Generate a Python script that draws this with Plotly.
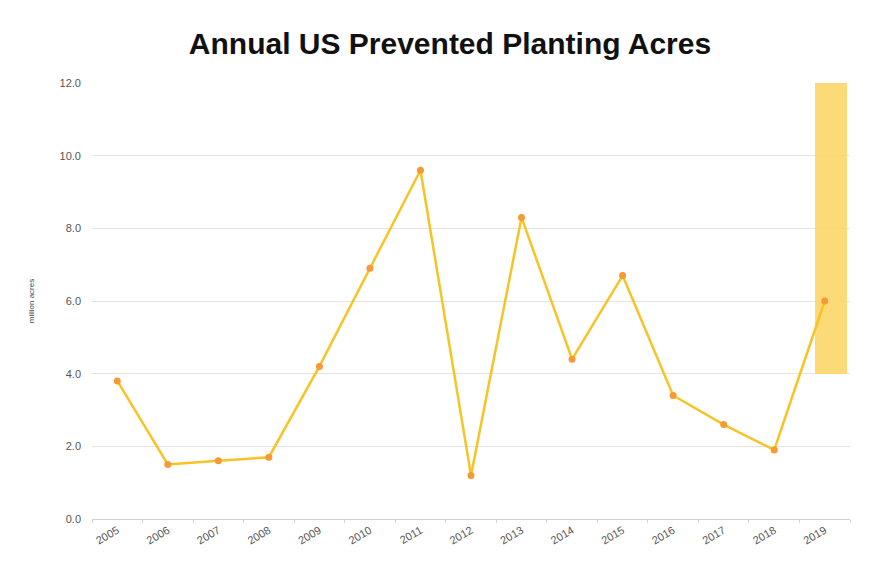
import plotly.graph_objects as go

years = ["2005", "2006", "2007", "2008", "2009", "2010", "2011", "2012",
         "2013", "2014", "2015", "2016", "2017", "2018", "2019"]
acres = [3.8, 1.5, 1.6, 1.7, 4.2, 6.9, 9.6, 1.2, 8.3, 4.4, 6.7, 3.4, 2.6, 1.9, 6.0]
highlight_year = ["2019"]
highlight_low = [4.0]
highlight_high = [12.0]
y_ticks = [0, 2, 4, 6, 8, 10, 12]
y_tick_labels = ["0.0", "2.0", "4.0", "6.0", "8.0", "10.0", "12.0"]

fig = go.Figure()
fig.add_trace(go.Bar(
    x=highlight_year,
    y=[h - l for h, l in zip(highlight_high, highlight_low)],
    base=highlight_low,
    width=0.63,
    offset=-0.19,
    marker=dict(color="rgba(253,214,105,0.9)", line=dict(width=0)),
    hoverinfo="skip",
    showlegend=False,
))
fig.add_trace(go.Scatter(
    x=years, y=acres, mode="lines+markers",
    line=dict(color="#F7C325", width=2.5),
    marker=dict(color="#F79A35", size=7),
    showlegend=False,
))

fig.update_layout(
    width=890, height=577,
    margin=dict(l=84, r=48, t=75, b=66),
    paper_bgcolor="white", plot_bgcolor="white",
    title=dict(text="<b>Annual US Prevented Planting Acres</b>",
               x=(450 - 8) / 890, xanchor="center", y=1 - 35 / 577, yanchor="middle",
               font=dict(family="Liberation Sans, Arial, sans-serif", size=30, color="#111111")),
    xaxis=dict(type="category", categoryorder="array", categoryarray=years,
               range=[-0.5, len(years) - 0.5],
               tickangle=-30, tickson="boundaries",
               ticks="outside", ticklen=3, tickcolor="#d0d0d0",
               showline=True, linecolor="#d0d0d0", linewidth=1,
               showgrid=False, automargin=False,
               tickfont=dict(family="Liberation Sans, Arial, sans-serif", size=11, color="#555555")),
    yaxis=dict(range=[0, 12], tickvals=y_ticks, ticktext=y_tick_labels,
               showgrid=True, gridcolor="#e3e3e3", gridwidth=1, zeroline=False,
               ticks="", ticklen=0, ticklabelstandoff=10, automargin=False,
               tickfont=dict(family="Liberation Sans, Arial, sans-serif", size=11, color="#555555"),
               title=dict(text="million acres", standoff=23,
                          font=dict(family="Liberation Sans, Arial, sans-serif", size=8, color="#444444"))),
    bargap=0,
)

fig.write_html("out.html")
